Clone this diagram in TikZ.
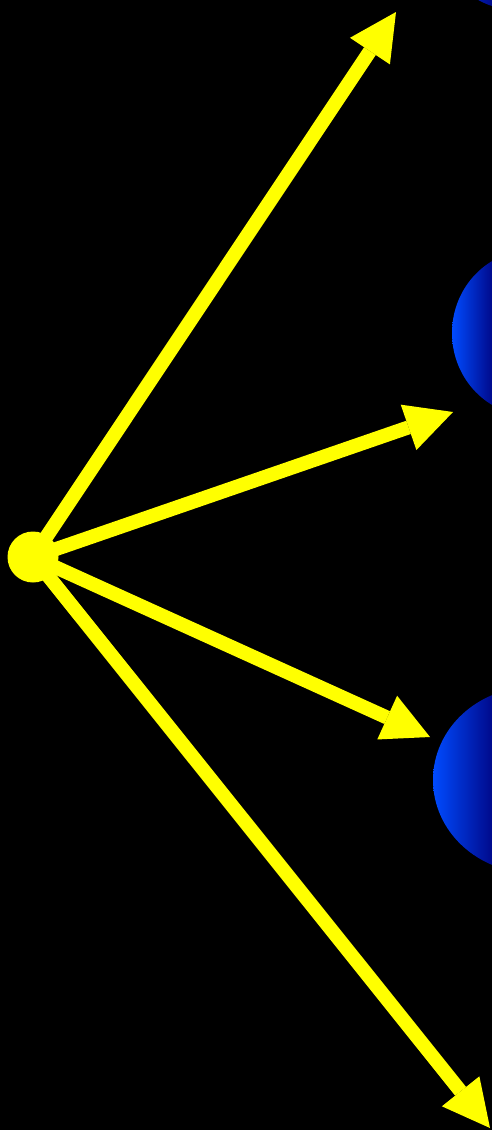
\documentclass[tikz,border=0pt]{standalone}
\usetikzlibrary{arrows.meta}
\definecolor{blobL}{RGB}{0,75,255}
\definecolor{blobR}{RGB}{0,10,140}
\definecolor{rayY}{RGB}{255,255,0}
\tikzset{
  ray/.style={draw=rayY, line width=14pt, -{Triangle[length=47pt,width=48pt,line width=0pt]}},
  blob/.style={left color=blobL, right color=blobR}
}
\begin{document}
\begin{tikzpicture}[x=1pt, y=-1pt]
  \fill[black] (0,0) rectangle (492,1130);
  \useasboundingbox (0,0) rectangle (492,1130);
  % blue lobes at the right edge
  \begin{scope}
    \clip (517,-70) ellipse[x radius=80, y radius=80];
    \shade[blob] (437,-150) rectangle (492,40);
  \end{scope}
  \begin{scope}
    \clip (532,333) ellipse[x radius=80, y radius=83];
    \shade[blob] (452,240) rectangle (492,430);
  \end{scope}
  \begin{scope}
    \clip (533,780) ellipse[x radius=100, y radius=93];
    \shade[blob] (433,680) rectangle (492,880);
  \end{scope}
  \coordinate (T1) at (396,12); \coordinate (T2) at (453,412); \coordinate (T3) at (430,737); \coordinate (T4) at (490,1128);
  \node[circle, fill=rayY, inner sep=0pt, minimum size=51pt] (O) at (33,557) {};
  \draw[ray] (O.center) -- (T1);
  \draw[ray] (O.center) -- (T2);
  \draw[ray] (O.center) -- (T3);
  \draw[ray] (O.center) -- (T4);
\end{tikzpicture}
\end{document}
